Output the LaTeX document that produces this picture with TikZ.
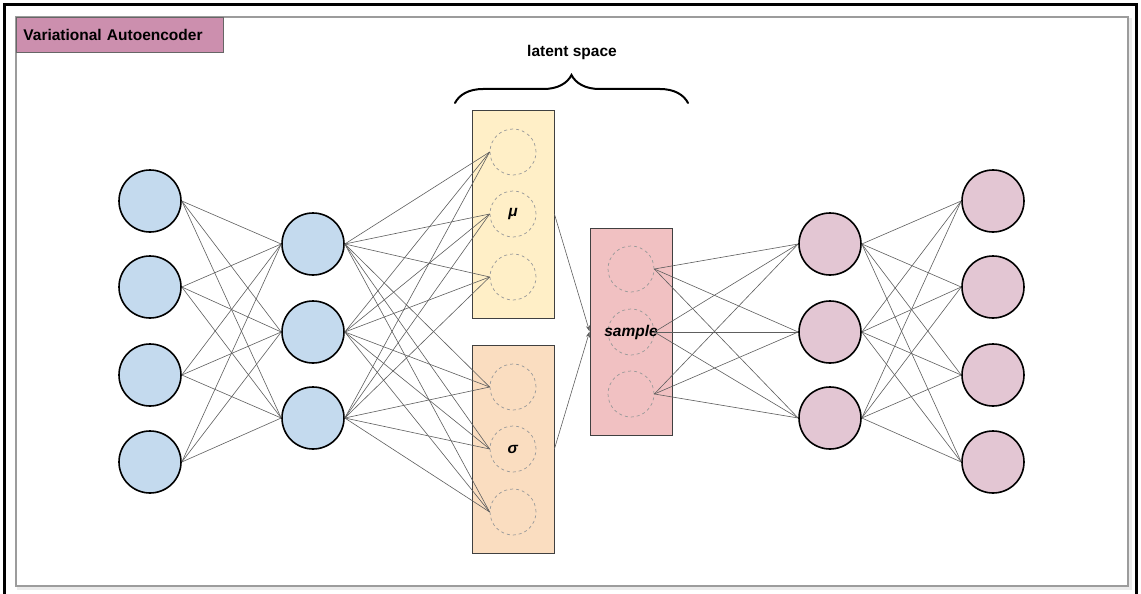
\documentclass[tikz,border=0pt]{standalone}
\usepackage{fontspec}
\setmainfont{Liberation Sans}
\usepackage{xcolor}
\usetikzlibrary{positioning, arrows.meta, decorations.pathreplacing}

\definecolor{encblue}{HTML}{C4DAEE}
\definecolor{decpink}{HTML}{E3C6D3}
\definecolor{titlepink}{HTML}{CC8FAE}
\definecolor{muyellow}{HTML}{FFEFC7}
\definecolor{sigpeach}{HTML}{FADDC0}
\definecolor{samplered}{HTML}{F1C1C2}
\definecolor{linkgrey}{HTML}{5E5E5E}
\definecolor{dashgrey}{HTML}{9A9A9A}
\definecolor{framegrey}{HTML}{9C9C9C}

\begin{document}
\begin{tikzpicture}[
      x=1pt, y=-1pt,
      font=\fontsize{15.5}{18}\selectfont\bfseries,
      neuron/.style={
        circle,
        draw,
        line width=1.6pt,
        minimum size=62pt,
        inner sep=0pt
      },
      latent/.style={
        circle,
        draw=dashgrey,
        dashed,
        line width=0.7pt,
        minimum size=46pt,
        inner sep=0pt
      },
      layerbox/.style={
        draw=black!75,
        line width=0.8pt,
        minimum width=82pt,
        minimum height=208pt
      },
      link/.style={
        draw=linkgrey,
        line width=0.6pt
      }
    ]

    \useasboundingbox (0,0) rectangle (1141,594);

    % frames
    \draw[line width=3pt] (4.5,600) -- (4.5,4.5) -- (1136,4.5) -- (1136,600);
    \draw[draw=black!8, line width=3pt] (18.5,19.5) rectangle (1130.5,588.5);
    \draw[draw=framegrey, line width=1.2pt, fill=white] (16,17) rectangle (1128,586);

    \node[draw=black!60, line width=0.8pt, fill=titlepink, anchor=north west,
          minimum width=207pt, minimum height=35pt, text width=193pt,
          inner sep=7pt, align=left] (title) at (16,17) {Variational Autoencoder};

    % latent space boxes
    \node[layerbox, fill=muyellow] (mubox) at (513,214) {};
    \node[layerbox, fill=sigpeach] (sigbox) at (513,449) {};
    \node[layerbox, fill=samplered, minimum height=207pt] (smpbox) at (631,331.5) {};

    \foreach \y [count=\i] in {152,214,277}
      \node[latent] (mu\i) at (513,\y) {};
    \foreach \y [count=\i] in {387,449,512}
      \node[latent] (sg\i) at (513,\y) {};
    \foreach \y [count=\i] in {269,332,394}
      \node[latent] (sm\i) at (631,\y) {};

    \node at (mu2) {\textit{μ}};
    \node at (sg2) {\textit{σ}};
    \node (smplbl) at (sm2) {\textit{sample}};

    % brace
    \draw[line width=2pt, line cap=round,
          decorate, decoration={brace, amplitude=28pt}] (455,103) -- (688,103);
    \node (latentlbl) at (572,52) {latent space};

    % encoder / decoder neurons
    \foreach \y [count=\i] in {201,287,375,462}
      \node[neuron, fill=encblue] (in\i) at (150,\y) {};
    \foreach \y [count=\i] in {244,332,418}
      \node[neuron, fill=encblue] (hid\i) at (313,\y) {};
    \foreach \y [count=\i] in {244,332,418}
      \node[neuron, fill=decpink] (dec\i) at (830,\y) {};
    \foreach \y [count=\i] in {201,287,375,462}
      \node[neuron, fill=decpink] (out\i) at (993,\y) {};

    % connections
    \foreach \a in {1,...,4}
      \foreach \b in {1,...,3}
        \draw[link] (in\a.east) -- (hid\b.west);
    \foreach \a in {1,...,3}
      \foreach \b in {1,...,3} {
        \draw[link] (hid\a.east) -- (mu\b.west);
        \draw[link] (hid\a.east) -- (sg\b.west);
        \draw[link] (sm\a.east) -- (dec\b.west);
      }
    \foreach \a in {1,...,3}
      \foreach \b in {1,...,4}
        \draw[link] (dec\a.east) -- (out\b.west);

    \draw[link, -{Stealth[length=6pt, width=4pt]}] (mubox.east) -- (smpbox.west);
    \draw[link, -{Stealth[length=6pt, width=4pt]}] (sigbox.east) -- (smpbox.west);

    \end{tikzpicture}
\end{document}
